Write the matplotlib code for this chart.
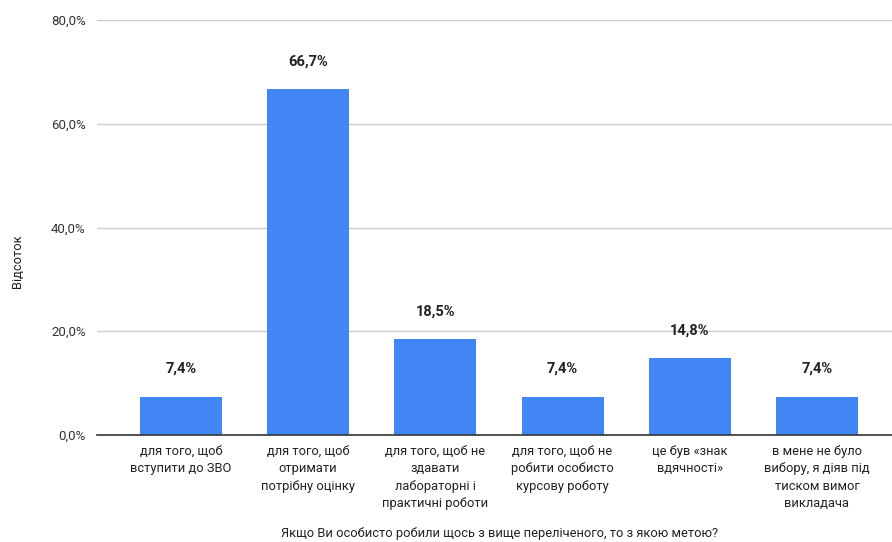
import matplotlib.pyplot as plt
from matplotlib.ticker import FuncFormatter

categories = [
    "для того, щоб\nвступити до ЗВО",
    "для того, щоб\nотримати\nпотрібну оцінку",
    "для того, щоб не\nздавати\nлабораторні і\nпрактичні роботи",
    "для того, щоб не\nробити особисто\nкурсову роботу",
    "це був «знак\nвдячності»",
    "в мене не було\nвибору, я діяв під\nтиском вимог\nвикладача",
]
values = [7.4, 66.7, 18.5, 7.4, 14.8, 7.4]
yticks = [0, 20, 40, 60, 80]

plt.rcParams['font.family'] = ['Roboto', 'DejaVu Sans']

W, H = 892, 542
fig = plt.figure(figsize=(W / 100, H / 100), dpi=100)
ax = fig.add_axes([97 / W, (H - 435) / H, (892 - 97) / W, 415 / H])

x = list(range(len(values)))
ax.bar(x, values, width=0.645, color="#4285F4", zorder=3)
ax.set_xlim(-0.66, 5.59)
ax.set_ylim(0, 80)
ax.set_yticks(yticks)
ax.yaxis.set_major_formatter(FuncFormatter(lambda v, p: f"{v:.1f}%".replace(".", ",")))
ax.grid(axis="y", color="#cccccc", linewidth=1, zorder=0)

for s in ["top", "right", "left"]:
    ax.spines[s].set_visible(False)
ax.spines["bottom"].set_color("#333333")
ax.spines["bottom"].set_linewidth(1.2)
ax.spines["bottom"].set_zorder(4)

ax.set_xticks(x)
ax.set_xticklabels(categories, fontsize=9.3, color="#222222", linespacing=1.45)
ax.tick_params(axis="x", length=0, pad=7)
ax.tick_params(axis="y", length=0, pad=8, labelsize=9.5, labelcolor="#333333")

for xi, v in zip(x, values):
    ax.annotate(f"{v:.1f}%".replace(".", ","), (xi, v), xytext=(0, 15),
                textcoords="offset points", ha="center", va="bottom",
                fontsize=10.5, fontweight="bold", color="#222222")

fig.text(18 / W, 1 - 261 / H, "Відсоток", rotation=90, ha="center", va="center",
         fontsize=9.3, color="#222222")
fig.text(500 / W, 1 - 533 / H, "Якщо Ви особисто робили щось з вище переліченого, то з якою метою?",
         ha="center", va="center", fontsize=9.3, color="#222222")

fig.savefig("out.png", dpi=100)
